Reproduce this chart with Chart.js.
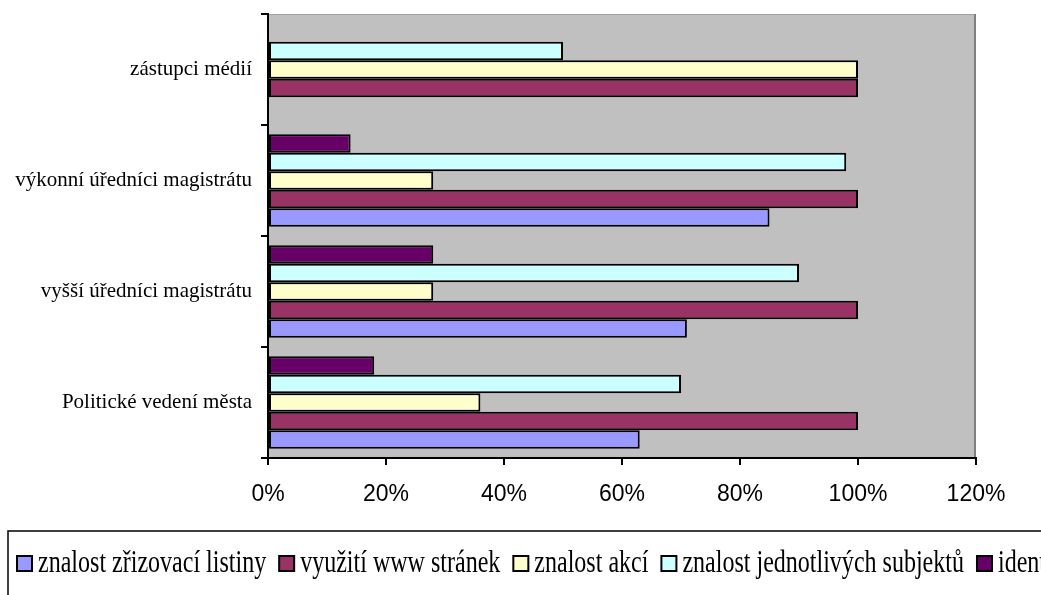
<!DOCTYPE html>
<html>
<head>
<meta charset="utf-8">
<script src="https://cdn.jsdelivr.net/npm/chart.js@4/dist/chart.umd.min.js"></script>
<style>
  html, body { margin: 0; padding: 0; background: #fff; }
  #wrap { width: 1041px; height: 595px; }
</style>
</head>
<body>
<div id="wrap"><canvas id="graf"></canvas></div>
<script>
// skupiny respondentů (odspodu nahoru)
var skupiny = ['Politické vedení města', 'vyšší úředníci magistrátu', 'výkonní úředníci magistrátu', 'zástupci médií'];

// názvy řad v pořadí legendy
var nazvyRad = ['znalost zřizovací listiny', 'využití www stránek', 'znalost akcí', 'znalost jednotlivých subjektů', 'identifikace s městem'];
var barvy = ['#9999FF', '#993366', '#FFFFCC', '#CCFFFF', '#660066'];

// hodnoty v procentech, po skupinách
var zrizovaciListina = [63, 71, 85, 0];
var wwwStranky = [100, 100, 100, 100];
var akce = [36, 28, 28, 100];
var subjekty = [70, 90, 98, 50];
var identifikace = [18, 28, 14, 0];

var osaX = [0, 20, 40, 60, 80, 100, 120];

var hodnoty = [zrizovaciListina, wwwStranky, akce, subjekty, identifikace];

var datasets = [];
for (var i = 0; i < nazvyRad.length; i++) {
    datasets.push({
        label: nazvyRad[i],
        data: hodnoty[i],
        backgroundColor: barvy[i],
        borderColor: '#000',
        borderWidth: 2,
        borderSkipped: false,
        categoryPercentage: 5 / 6,
        barPercentage: 1
    });
}
// v Excelu je první řada dole ve skupině
datasets.reverse();

// šedé pozadí plochy grafu
var pozadi = {
    id: 'pozadi',
    beforeDraw: function(chart) {
        var a = chart.chartArea, ctx = chart.ctx;
        ctx.save();
        ctx.fillStyle = '#C0C0C0';
        ctx.fillRect(a.left, a.top, a.right - a.left, a.bottom - a.top);
        ctx.strokeStyle = '#A0A0A0';
        ctx.lineWidth = 1;
        ctx.beginPath();
        ctx.moveTo(a.left, a.top + 0.5);
        ctx.lineTo(a.right, a.top + 0.5);
        ctx.stroke();
        ctx.strokeStyle = '#808080';
        ctx.lineWidth = 2;
        ctx.beginPath();
        ctx.moveTo(a.right - 1, a.top);
        ctx.lineTo(a.right - 1, a.bottom);
        ctx.stroke();
        ctx.restore();
    }
};

// legenda v rámečku pod grafem, písmo je zúžené
var legenda = {
    id: 'legenda',
    afterDraw: function(chart) {
        var ctx = chart.ctx;
        var zuzeni = 0.775;
        ctx.save();
        ctx.strokeStyle = '#000';
        ctx.lineWidth = 1.5;
        ctx.strokeRect(8, 531, 1200, 200);
        ctx.font = '31px "Liberation Serif", "Times New Roman", serif';
        ctx.textBaseline = 'alphabetic';
        var x = 17, y = 564;
        for (var i = 0; i < nazvyRad.length; i++) {
            ctx.fillStyle = barvy[i];
            ctx.fillRect(x, y - 8, 15, 15);
            ctx.lineWidth = 2;
            ctx.strokeStyle = '#000';
            ctx.strokeRect(x, y - 8, 15, 15);
            ctx.fillStyle = '#000';
            ctx.save();
            ctx.translate(x + 21, y + 8);
            ctx.scale(zuzeni, 1);
            ctx.fillText(nazvyRad[i], 0, 0);
            ctx.restore();
            x += 21 + ctx.measureText(nazvyRad[i]).width * zuzeni + 13;
        }
        ctx.restore();
    }
};

new Chart(document.getElementById('graf'), {
    type: 'bar',
    data: {
        labels: skupiny,
        datasets: datasets
    },
    options: {
        indexAxis: 'y',
        responsive: true,
        maintainAspectRatio: false,
        animation: false,
        layout: { padding: { top: 14, right: 65, left: 0, bottom: 0 } },
        plugins: {
            legend: { display: false },
            tooltip: { enabled: false }
        },
        scales: {
            x: {
                min: 0,
                max: 120,
                afterBuildTicks: function(scale) {
                    scale.ticks = osaX.map(function(v) { return { value: v }; });
                },
                afterFit: function(scale) { scale.height = 137; },
                grid: { drawOnChartArea: false, drawTicks: true, tickLength: 7, color: '#000', lineWidth: 2 },
                border: { color: '#000', width: 2 },
                ticks: {
                    color: '#000',
                    padding: 16,
                    maxRotation: 0,
                    font: { family: '"Liberation Sans", Arial, sans-serif', size: 23 },
                    callback: function(v) { return v + '%'; }
                }
            },
            y: {
                reverse: true,
                afterFit: function(scale) {
                    scale.width = 268;
                    scale.paddingTop = 0;
                    scale.paddingBottom = 0;
                },
                grid: { drawOnChartArea: false, drawTicks: true, tickLength: 7, color: '#000', lineWidth: 2, offset: true },
                border: { color: '#000', width: 2 },
                ticks: {
                    color: '#000',
                    padding: 9,
                    font: { family: '"Liberation Serif", "Times New Roman", serif', size: 21 }
                }
            }
        }
    },
    plugins: [pozadi, legenda]
});
</script>
</body>
</html>
